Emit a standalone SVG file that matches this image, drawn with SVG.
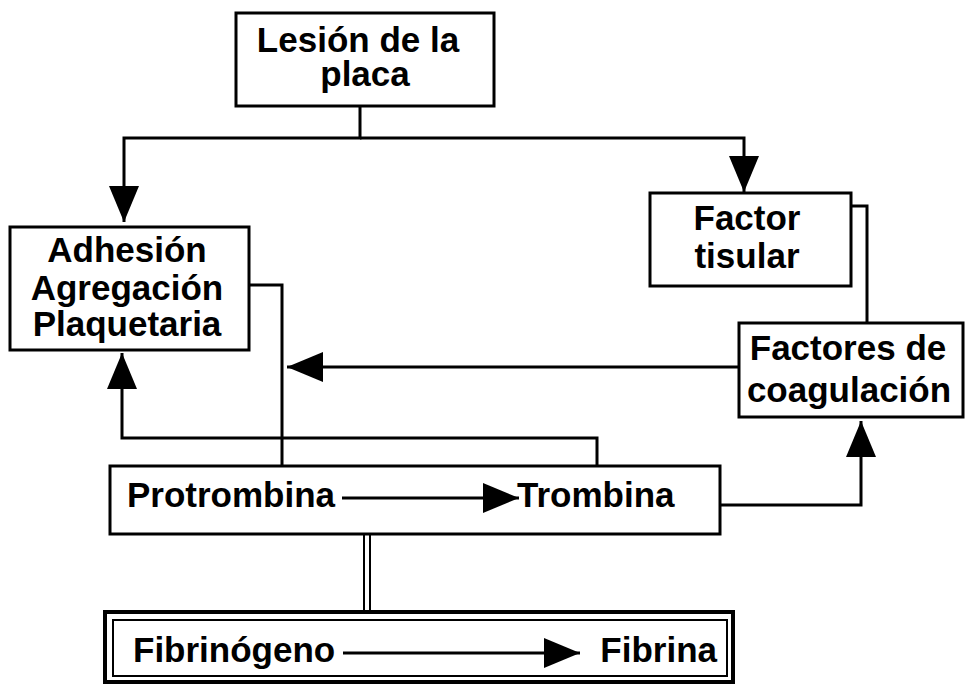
<svg xmlns="http://www.w3.org/2000/svg" width="969" height="686" viewBox="0 0 969 686">
  <style>
    .box { fill: #ffffff; stroke: #000000; stroke-width: 3; }
    .thin { fill: none; stroke: #000000; stroke-width: 2; }
    .thick { fill: none; stroke: #000000; stroke-width: 4; }
    .lbl { font-family: "Liberation Sans", Arial, sans-serif; font-size: 35px; font-weight: bold; fill: #000000; }
    .mid { text-anchor: middle; }
    .end { text-anchor: end; }
    .wire { fill: none; stroke: #000000; stroke-width: 3; }
    .wire2 { fill: none; stroke: #000000; stroke-width: 2; }
  </style>
  <defs>
    <marker id="arrow" markerUnits="userSpaceOnUse" markerWidth="36" markerHeight="30" refX="36" refY="15" orient="auto">
      <path d="M0,0 L36,15 L0,30 Z" fill="#000000"/>
    </marker>
  </defs>
  <rect width="969" height="686" fill="#ffffff"/>

  <!-- connectors -->
  <g id="connectors">
    <path class="wire" d="M360,106 V138 H124 V222" marker-end="url(#arrow)"/>
    <path class="wire" d="M360,138 H744 V192" marker-end="url(#arrow)"/>
    <path class="wire" d="M249,285 H282 V466"/>
    <path class="wire" d="M597,466 V438 H122 V353" marker-end="url(#arrow)"/>
    <path class="wire" d="M739,367 H287" marker-end="url(#arrow)"/>
    <path class="wire" d="M851,206 H867 V323"/>
    <path class="wire" d="M720,505 H861 V421" marker-end="url(#arrow)"/>
    <path class="wire2" d="M364,534 V613 M370,534 V613"/>
  </g>

  <g id="lesion">
    <rect class="box" x="236" y="13" width="258" height="93"/>
    <text class="lbl mid" x="358" y="52">Lesión de la</text>
    <text class="lbl mid" x="365" y="86">placa</text>
  </g>

  <g id="adhesion">
    <rect class="box" x="10" y="227" width="239" height="123"/>
    <text class="lbl mid" x="127" y="262">Adhesión</text>
    <text class="lbl mid" x="127" y="300">Agregación</text>
    <text class="lbl mid" x="127" y="336">Plaquetaria</text>
  </g>

  <g id="factor-tisular">
    <rect class="box" x="650" y="193" width="201" height="93"/>
    <text class="lbl mid" x="747" y="230">Factor</text>
    <text class="lbl mid" x="747" y="268">tisular</text>
  </g>

  <g id="factores">
    <rect class="box" x="739" y="323" width="224" height="94"/>
    <text class="lbl mid" x="848" y="360">Factores de</text>
    <text class="lbl mid" x="849" y="402">coagulación</text>
  </g>

  <g id="protrombina">
    <rect class="box" x="110" y="466" width="610" height="68"/>
    <text class="lbl" x="127" y="507">Protrombina</text>
    <path class="wire" d="M342,498 H519" marker-end="url(#arrow)"/>
    <text class="lbl" x="517" y="507">Trombina</text>
  </g>

  <g id="fibrinogeno">
    <rect class="thick" x="105" y="612" width="628" height="70"/>
    <rect class="thin" x="113" y="620" width="614" height="56"/>
    <text class="lbl" x="133" y="662">Fibrinógeno</text>
    <path class="wire" d="M343,653 H580" marker-end="url(#arrow)"/>
    <text class="lbl end" x="717" y="662">Fibrina</text>
  </g>
</svg>
